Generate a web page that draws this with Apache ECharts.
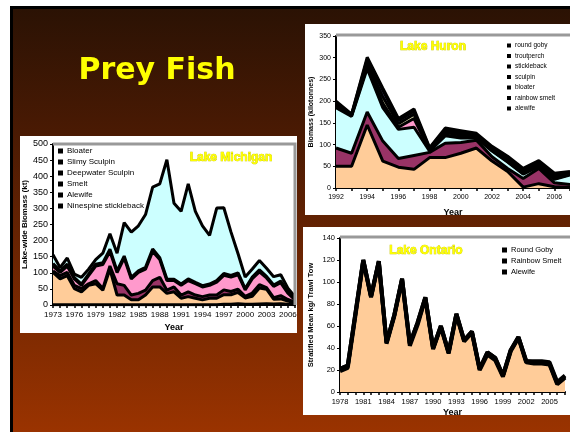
<!DOCTYPE html>
<html>
<head>
<meta charset="utf-8">
<script src="https://cdn.jsdelivr.net/npm/echarts@6/dist/echarts.min.js"></script>
<style>
  html, body { margin: 0; padding: 0; background: #fff; }
  #chart { width: 570px; height: 432px; }
</style>
</head>
<body>
<div id="chart"></div>
<script>
// Lake Michigan, lake-wide biomass (kt)
const michYears = ['1973','1974','1975','1976','1977','1978','1979','1980','1981','1982','1983','1984',
  '1985','1986','1987','1988','1989','1990','1991','1992','1993','1994','1995','1996','1997','1998',
  '1999','2000','2001','2002','2003','2004','2005','2006','2007'];
const michNinespine = [1,1,1,1,1,1,1,1,1,1,1,1,1,1,1,1,1,1,1,1,1,1,1,1,2,2,4,2,2,3,4,3,4,2,1];
const michAlewife   = [100,80,90,50,40,60,65,45,110,30,30,15,15,30,55,55,35,40,20,25,20,15,20,20,30,30,35,20,25,50,45,15,15,10,5];
const michSmelt     = [5,10,10,10,10,5,10,5,10,35,30,15,20,15,20,30,10,15,10,15,10,10,10,10,15,10,10,5,10,10,5,5,10,5,3];
const michDeepwater = [15,10,20,20,10,25,45,75,45,35,85,50,65,65,90,55,30,20,30,35,35,30,30,40,45,45,45,20,45,40,30,35,40,20,7];
const michSlimy     = [8,5,6,4,4,5,6,5,7,5,6,5,5,6,8,6,5,4,4,5,4,4,4,5,6,5,6,4,5,6,5,4,5,3,2];
const michBloater   = [27,10,19,11,21,15,14,30,48,55,104,140,140,164,192,229,370,236,226,295,221,186,151,225,204,135,59,36,25,29,25,26,20,12,8];

// Lake Huron, biomass (kilotonnes)
const huronYears = ['1992','1993','1994','1995','1996','1997','1998','1999','2000','2001','2002','2003','2004','2005','2006','2007'];
const huronAlewife     = [50,50,145,62,48,43,70,70,80,92,62,38,2,10,3,1];
const huronSmelt       = [42,30,30,46,20,32,12,33,25,18,10,7,20,35,9,7];
const huronBloater     = [93,85,100,77,67,65,3,17,10,5,13,15,10,5,8,22];
const huronSculpin     = [5,2,5,10,5,20,2,2,2,2,2,1,1,1,1,1];
const huronStickleback = [3,1,8,15,8,10,2,6,5,3,3,4,4,4,4,2];
const huronTroutperch  = [4,1,8,15,7,7,2,5,5,3,3,4,4,4,4,2];
const huronGoby        = [3,1,5,5,5,5,2,5,5,3,3,4,4,4,5,3];

// Lake Ontario, stratified mean kg / trawl tow
const ontYears = ['1978','1979','1980','1981','1982','1983','1984','1985','1986','1987','1988','1989','1990',
  '1991','1992','1993','1994','1995','1996','1997','1998','1999','2000','2001','2002','2003','2004','2005','2006','2007'];
const ontAlewife = [19,22,70,119,86,118,44,69,102,42,61,85,39,59,35,70,46,54,20,34,29,14,37,49,27,26,26,25,7,13];
const ontSmelt   = [2,2,2,1,1,1,1,1,1,2,2,1,1,1,1,1,1,1,1,2,2,1,1,1,1,1,1,1,1,1];
const ontGoby    = [0,0,0,0,0,0,0,0,0,0,0,0,0,0,0,0,0,0,0,0,0,0,0,0,0,1,1,1,1,1];

const chart = echarts.init(document.getElementById('chart'));

const bgGrad = {
  type: 'linear', x: 0, y: 6, x2: 0, y2: 432, global: true,
  colorStops: [
    { offset: 0, color: '#2a1204' },
    { offset: 0.3, color: '#4a1a03' },
    { offset: 1, color: '#9a3300' }
  ]
};

const FONT = 'Liberation Sans';

// one stacked area layer with the heavy black outline
function layer(name, data, color, grid, stack, lw) {
  return {
    name: name,
    type: 'line',
    xAxisIndex: grid,
    yAxisIndex: grid,
    stack: stack,
    data: data,
    showSymbol: false,
    symbol: 'none',
    itemStyle: { color: color },
    lineStyle: { color: '#000', width: lw || 3 },
    areaStyle: { color: color, opacity: 1 }
  };
}

function catAxis(grid, years, labelInterval, fontSize, nameGap) {
  return {
    type: 'category',
    gridIndex: grid,
    data: years,
    boundaryGap: false,
    name: 'Year',
    nameLocation: 'middle',
    nameGap: nameGap,
    nameTextStyle: { color: '#000', fontFamily: FONT, fontWeight: 'bold', fontSize: 9 },
    axisLine: { lineStyle: { color: '#000', width: 2 } },
    axisTick: { show: true, interval: 0, length: 3, lineStyle: { color: '#000', width: 1.5 } },
    axisLabel: { interval: labelInterval, color: '#000', fontFamily: FONT, fontSize: fontSize, margin: 6 },
    splitLine: { show: false }
  };
}

function valAxis(grid, max, step, title, fontSize, nameGap, nameSize) {
  return {
    type: 'value',
    gridIndex: grid,
    min: 0,
    max: max,
    interval: step,
    name: title,
    nameLocation: 'middle',
    nameRotate: 90,
    nameGap: nameGap,
    nameTextStyle: { color: '#000', fontFamily: FONT, fontWeight: 'bold', fontSize: nameSize },
    axisLine: { show: true, lineStyle: { color: '#000', width: 2 } },
    axisTick: { show: true, length: 3, lineStyle: { color: '#000' } },
    axisLabel: { color: '#000', fontFamily: FONT, fontSize: fontSize, margin: 5 },
    splitLine: { show: false }
  };
}

function lakeTitle(text, x, y) {
  return {
    type: 'text', x: x, y: y, z: 50,
    style: {
      text: text, fill: '#ffff00', stroke: '#c8c800', lineWidth: 0.7,
      font: 'bold 12px "Liberation Sans"', textAlign: 'center', textVerticalAlign: 'middle'
    }
  };
}

function legendBox(names, left, top, fontSize, gap, icon) {
  return {
    orient: 'vertical',
    left: left,
    top: top,
    icon: 'rect',
    itemWidth: icon,
    itemHeight: icon,
    itemGap: gap,
    selectedMode: false,
    padding: 0,
    itemStyle: { color: '#000', borderWidth: 0 },
    textStyle: { color: '#000', fontFamily: FONT, fontSize: fontSize, padding: [0, 0, 0, -1] },
    data: names.map(n => ({ name: n, icon: 'rect', itemStyle: { color: '#000', borderWidth: 0 } }))
  };
}

const option = {
  animation: false,
  backgroundColor: '#fff',
  graphic: [
    { type: 'rect', z: -10, shape: { x: 11.5, y: 7.5, width: 600, height: 460 },
      style: { fill: bgGrad, stroke: '#000', lineWidth: 3 } },
    { type: 'text', x: 157, y: 71, z: 50,
      style: { text: 'Prey Fish', fill: '#ffff00', font: 'bold 30px "DejaVu Sans"',
               textAlign: 'center', textVerticalAlign: 'middle' } },
    // white panels
    { type: 'rect', z: -5, shape: { x: 20, y: 136, width: 277, height: 197 }, style: { fill: '#fff' } },
    { type: 'rect', z: -5, shape: { x: 305, y: 24, width: 300, height: 191 }, style: { fill: '#fff' } },
    { type: 'rect', z: -5, shape: { x: 303, y: 227, width: 300, height: 188 }, style: { fill: '#fff' } },
    // grey plot-area borders
    { type: 'polyline', z: 5, shape: { points: [[53, 144], [295, 144], [295, 305]] },
      style: { stroke: '#999', lineWidth: 3, fill: null } },
    { type: 'line', z: 5, shape: { x1: 336, y1: 35, x2: 575, y2: 35 }, style: { stroke: '#999', lineWidth: 3 } },
    { type: 'line', z: 5, shape: { x1: 340, y1: 237, x2: 575, y2: 237 }, style: { stroke: '#999', lineWidth: 3 } },
    lakeTitle('Lake Michigan', 231, 158),
    lakeTitle('Lake Huron', 433, 47),
    lakeTitle('Lake Ontario', 426, 251),
    // panels cut off at their lower edge
    { type: 'rect', z: 100, shape: { x: 303, y: 215, width: 300, height: 12 }, style: { fill: bgGrad } },
    { type: 'rect', z: 100, shape: { x: 303, y: 415, width: 300, height: 30 }, style: { fill: bgGrad } }
  ],
  legend: [
    legendBox(['Bloater', 'Slimy Sculpin', 'Deepwater Sculpin', 'Smelt', 'Alewife', 'Ninespine stickleback'], 58, 147, 8, 3, 5),
    legendBox(['round goby', 'troutperch', 'stickleback', 'sculpin', 'bloater', 'rainbow smelt', 'alewife'], 507, 42, 6.5, 3.5, 4),
    legendBox(['Round Goby', 'Rainbow Smelt', 'Alewife '], 502, 246, 7.5, 3, 5)
  ],
  grid: [
    { left: 53, top: 144, width: 242, height: 161 },
    { left: 336, top: 36, width: 241, height: 152 },
    { left: 340, top: 238, width: 225, height: 154 }
  ],
  xAxis: [
    catAxis(0, michYears, 2, 8, 18),
    catAxis(1, huronYears, 1, 7, 20),
    catAxis(2, ontYears, 2, 7.5, 16)
  ],
  yAxis: [
    valAxis(0, 500, 50, 'Lake-wide Biomass (kt)', 9, 22, 8),
    valAxis(1, 350, 50, 'Biomass (kilotonnes)', 7, 21, 7),
    valAxis(2, 140, 20, 'Stratified Mean kg/ Trawl Tow', 7.5, 25, 7.5)
  ],
  series: [
    layer('Ninespine stickleback', michNinespine, '#663366', 0, 'mi'),
    layer('Alewife', michAlewife, '#ffcc99', 0, 'mi'),
    layer('Smelt', michSmelt, '#993366', 0, 'mi'),
    layer('Deepwater Sculpin', michDeepwater, '#ff99cc', 0, 'mi'),
    layer('Slimy Sculpin', michSlimy, '#ccccff', 0, 'mi'),
    layer('Bloater', michBloater, '#ccffff', 0, 'mi'),

    layer('alewife', huronAlewife, '#ffcc99', 1, 'hu'),
    layer('rainbow smelt', huronSmelt, '#993366', 1, 'hu'),
    layer('bloater', huronBloater, '#ccffff', 1, 'hu'),
    layer('sculpin', huronSculpin, '#ff99cc', 1, 'hu'),
    layer('stickleback', huronStickleback, '#ffffcc', 1, 'hu'),
    layer('troutperch', huronTroutperch, '#9999ff', 1, 'hu'),
    layer('round goby', huronGoby, '#660066', 1, 'hu'),

    layer('Alewife ', ontAlewife, '#ffcc99', 2, 'on', 4),
    layer('Rainbow Smelt', ontSmelt, '#993366', 2, 'on', 4),
    layer('Round Goby', ontGoby, '#660066', 2, 'on', 4)
  ]
};

chart.setOption(option);
</script>
</body>
</html>
